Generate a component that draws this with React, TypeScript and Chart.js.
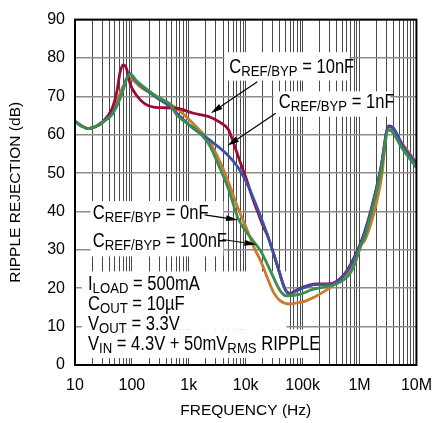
import React, { useEffect, useRef } from "react";
import { Chart, registerables } from "chart.js";

Chart.register(...registerables);

// ---------------- data ----------------
const decadeValues = [10, 100, 1000, 10000, 100000, 1000000, 10000000];
const decadeLabels = ["10", "100", "1k", "10k", "100k", "1M", "10M"];
const dbTickValues = [0, 10, 20, 30, 40, 50, 60, 70, 80, 90];

// C_REF/BYP = 10nF (dark red)
const freq10nF = [10, 13, 17, 22, 30, 45, 55, 62, 71, 81, 93, 120, 167, 240, 617, 1200, 2281, 3373, 4990, 6085, 7900, 10300, 13300, 16200, 21000, 24000, 35500, 49300, 60000, 77000, 130000, 180000, 290000, 550000, 930000, 1200000, 1580000, 2360000, 3250000, 3900000, 5800000, 10000000];
const db10nF = [63.5, 62.3, 61.6, 62.0, 63.2, 66.9, 71.6, 76.3, 78.2, 77.1, 73.3, 70.3, 68.1, 67.2, 66.9, 65.6, 64.7, 63.4, 61.3, 57.9, 53.1, 48.4, 43.3, 39.9, 35.6, 33.9, 26.2, 19.7, 18.6, 19.5, 20.8, 21.1, 21.1, 23.8, 30.0, 34.2, 40.2, 51.2, 62.3, 61.8, 57.0, 52.6];

// C_REF/BYP = 1nF (blue)
const freq1nF = [10, 13, 17, 22, 30, 45, 66, 80, 92, 112, 167, 282, 475, 617, 1186, 2281, 4385, 7390, 11000, 16200, 24000, 35500, 49300, 60000, 77000, 130000, 180000, 290000, 550000, 930000, 1200000, 1580000, 2360000, 3250000, 3900000, 5800000, 10000000];
const db1nF = [63.5, 62.3, 61.6, 62.0, 63.3, 65.5, 70.7, 74.5, 76.0, 74.3, 72.0, 69.5, 67.3, 65.6, 61.7, 58.7, 55.3, 51.4, 46.7, 40.7, 33.9, 26.2, 19.7, 18.4, 19.3, 20.6, 21.0, 21.0, 23.6, 29.6, 33.9, 39.9, 51.0, 62.1, 61.7, 57.0, 52.5];

// C_REF/BYP = 0nF (green)
const freq0nF = [10, 13, 17, 22, 30, 45, 66, 80, 95, 115, 170, 282, 475, 617, 1350, 2281, 3373, 4990, 7390, 12500, 18500, 27400, 40500, 52000, 88000, 150000, 430000, 720000, 1070000, 1250000, 1580000, 2360000, 3250000, 3900000, 5300000, 10000000];
const db0nF = [63.5, 62.3, 61.6, 62.0, 63.3, 65.3, 70.5, 74.5, 75.8, 74.4, 72.2, 69.8, 67.8, 65.1, 61.3, 57.4, 51.9, 45.8, 38.1, 33.0, 29.6, 24.4, 19.3, 18.0, 18.4, 19.7, 21.4, 24.4, 31.3, 33.5, 39.0, 50.1, 61.3, 60.5, 57.0, 51.4];

// C_REF/BYP = 100nF (orange)
const freq100nF = [10, 13, 17, 22, 30, 40, 58, 75, 87, 100, 143, 282, 617, 1352, 2281, 3373, 4990, 7390, 10300, 14200, 18500, 24000, 31200, 40500, 60000, 88000, 115000, 250000, 490000, 810000, 1070000, 1250000, 2000000, 2500000, 3000000, 3400000, 5800000, 10000000];
const db100nF = [63.5, 62.3, 61.6, 62.0, 63.0, 65.1, 69.9, 73.5, 75.0, 74.5, 72.4, 69.9, 66.8, 62.1, 58.3, 53.6, 47.6, 40.7, 35.6, 30.4, 27.0, 22.7, 18.8, 16.7, 15.9, 16.3, 16.7, 19.3, 22.7, 26.1, 31.3, 32.6, 42.4, 50.0, 60.8, 61.3, 57.4, 52.7];

// ---------------- annotation config (data coordinates) ----------------
type Part = { t: string; sub?: boolean };
const labelSpecs: { f: number; db: number; parts: Part[] }[] = [
  { f: 5130, db: 76.1, parts: [{ t: "C" }, { t: "REF/BYP", sub: true }, { t: " = 10nF" }] },
  { f: 38000, db: 66.9, parts: [{ t: "C" }, { t: "REF/BYP", sub: true }, { t: " = 1nF" }] },
  { f: 20.5, db: 38.1, parts: [{ t: "C" }, { t: "REF/BYP", sub: true }, { t: " = 0nF" }] },
  { f: 20.5, db: 30.7, parts: [{ t: "C" }, { t: "REF/BYP", sub: true }, { t: " = 100nF" }] },
  { f: 16.9, db: 19.5, parts: [{ t: "I" }, { t: "LOAD", sub: true }, { t: " = 500mA" }] },
  { f: 16.9, db: 14.3, parts: [{ t: "C" }, { t: "OUT", sub: true }, { t: " = 10µF" }] },
  { f: 16.9, db: 9.1, parts: [{ t: "V" }, { t: "OUT", sub: true }, { t: " = 3.3V" }] },
  { f: 16.9, db: 3.9, parts: [{ t: "V" }, { t: "IN", sub: true }, { t: " = 4.3V + 50mV" }, { t: "RMS", sub: true }, { t: " RIPPLE" }] },
];

const arrowSpecs = [
  { f0: 16000, d0: 73.8, f1: 2432, d1: 65.6 },
  { f0: 33700, d0: 65.6, f1: 4745, d1: 57.1 },
  { f0: 1900, d0: 39.1, f1: 7310, d1: 37.8 },
  { f0: 3900, d0: 32.7, f1: 15400, d1: 31.4 },
];

const whiteBoxes = [
  { f0: 4217, f1: 666900, d0: 81.5, d1: 74.1 },
  { f0: 31200, f1: 3470000, d0: 71.3, d1: 64.7 },
  { f0: 18.7, f1: 4055, d0: 42.7, d1: 28.3 },
  { f0: 13.2, f1: 52000, d0: 24.4, d1: 9.3 },
  { f0: 13.2, f1: 168800, d0: 9.3, d1: 1.8 },
];

const FONT = '"Liberation Sans", Arial, Helvetica, sans-serif';

function buildLogTicks() {
  const out: { value: number }[] = [];
  for (let e = 1; e <= 6; e++) {
    for (let d = 1; d <= 9; d++) out.push({ value: d * Math.pow(10, e) });
  }
  out.push({ value: 10000000 });
  return out;
}

function drawRich(ctx: CanvasRenderingContext2D, x: number, y: number, parts: Part[]) {
  const MAIN = 19.5;
  const SUB = 15.5;
  const DROP = 3;
  const SX = 0.85;
  ctx.save();
  ctx.translate(x, y);
  ctx.scale(SX, 1);
  ctx.fillStyle = "#000";
  ctx.textBaseline = "alphabetic";
  ctx.textAlign = "left";
  let cx = 0;
  for (const p of parts) {
    ctx.font = `${p.sub ? SUB : MAIN}px ${FONT}`;
    ctx.fillText(p.t, cx, p.sub ? DROP : 0);
    cx += ctx.measureText(p.t).width;
  }
  ctx.restore();
}

function drawArrow(ctx: CanvasRenderingContext2D, x0: number, y0: number, x1: number, y1: number) {
  const ang = Math.atan2(y1 - y0, x1 - x0);
  const L = 12;
  const W = 3;
  const bx = x1 - L * Math.cos(ang);
  const by = y1 - L * Math.sin(ang);
  ctx.save();
  ctx.strokeStyle = "#000";
  ctx.fillStyle = "#000";
  ctx.lineWidth = 1.2;
  ctx.beginPath();
  ctx.moveTo(x0, y0);
  ctx.lineTo(bx, by);
  ctx.stroke();
  ctx.beginPath();
  ctx.moveTo(x1, y1);
  ctx.lineTo(bx + W * Math.sin(ang), by - W * Math.cos(ang));
  ctx.lineTo(bx - W * Math.sin(ang), by + W * Math.cos(ang));
  ctx.closePath();
  ctx.fill();
  ctx.restore();
}

const overlayPlugin = {
  id: "overlay",
  beforeDatasetsDraw(chart: any) {
    const { ctx, chartArea } = chart;
    const xs = chart.scales.x;
    const ys = chart.scales.y;
    ctx.save();
    ctx.beginPath();
    ctx.rect(chartArea.left, chartArea.top, chartArea.right - chartArea.left, chartArea.bottom - chartArea.top);
    ctx.clip();
    ctx.fillStyle = "#fff";
    for (const b of whiteBoxes) {
      const x0 = xs.getPixelForValue(b.f0);
      const x1 = xs.getPixelForValue(b.f1);
      const y0 = ys.getPixelForValue(b.d0);
      const y1 = ys.getPixelForValue(b.d1);
      ctx.fillRect(Math.min(x0, x1), Math.min(y0, y1), Math.abs(x1 - x0), Math.abs(y1 - y0));
    }
    ctx.restore();
  },
  afterDatasetsDraw(chart: any) {
    const { ctx, chartArea } = chart;
    const xs = chart.scales.x;
    const ys = chart.scales.y;
    for (const l of labelSpecs) {
      drawRich(ctx, xs.getPixelForValue(l.f), ys.getPixelForValue(l.db), l.parts);
    }
    for (const a of arrowSpecs) {
      drawArrow(ctx, xs.getPixelForValue(a.f0), ys.getPixelForValue(a.d0), xs.getPixelForValue(a.f1), ys.getPixelForValue(a.d1));
    }
    ctx.save();
    ctx.strokeStyle = "#000";
    ctx.lineWidth = 2;
    ctx.strokeRect(chartArea.left, chartArea.top, chartArea.right - chartArea.left, chartArea.bottom - chartArea.top);
    ctx.restore();
  },
};

function series(freqs: number[], dbs: number[]) {
  return freqs.map((f, i) => ({ x: f, y: dbs[i] }));
}

export default function App() {
  const ref = useRef<HTMLCanvasElement | null>(null);
  useEffect(() => {
    if (!ref.current) return;
    const common = { pointRadius: 0, borderWidth: 2.8, fill: false, cubicInterpolationMode: "monotone" as const };
    const chart = new Chart(ref.current, {
      type: "line",
      data: {
        datasets: [
          { label: "0nF", data: series(freq0nF, db0nF), borderColor: "#3B8E4E", ...common },
          { label: "1nF", data: series(freq1nF, db1nF), borderColor: "#3C52A8", ...common },
          { label: "10nF", data: series(freq10nF, db10nF), borderColor: "#9E0A33", ...common },
          { label: "100nF", data: series(freq100nF, db100nF), borderColor: "#C97B30", ...common },
        ],
      },
      options: {
        responsive: false,
        animation: false,
        events: [],
        layout: { padding: { top: 15, right: 16, left: 0, bottom: 0 } },
        plugins: { legend: { display: false }, tooltip: { enabled: false } },
        scales: {
          x: {
            type: "logarithmic",
            min: 10,
            max: 10000000,
            afterBuildTicks: (s: any) => {
              s.ticks = buildLogTicks();
            },
            afterFit: (s: any) => {
              s.height = 58;
            },
            ticks: {
              autoSkip: false,
              maxRotation: 0,
              minRotation: 0,
              padding: 11,
              color: "#000",
              font: { family: FONT, size: 16 },
              callback: (v: any) => {
                const i = decadeValues.indexOf(Number(v));
                return i >= 0 ? decadeLabels[i] : "";
              },
            },
            grid: { color: "#4a4a4a", lineWidth: 1, drawTicks: false },
            border: { display: false },
            title: {
              display: true,
              text: "FREQUENCY (Hz)",
              color: "#000",
              font: { family: FONT, size: 15.5 },
              padding: { top: 0, bottom: 3 },
            },
          },
          y: {
            type: "linear",
            min: 0,
            max: 90,
            afterBuildTicks: (s: any) => {
              s.ticks = dbTickValues.map((v) => ({ value: v }));
            },
            afterFit: (s: any) => {
              s.width = 75;
            },
            ticks: {
              padding: 10,
              color: "#000",
              font: { family: FONT, size: 16 },
            },
            grid: { color: "#8c8c8c", lineWidth: 1.5, drawTicks: false },
            border: { display: false },
            title: {
              display: true,
              text: "RIPPLE REJECTION (dB)",
              color: "#000",
              font: { family: FONT, size: 15.5 },
              padding: { top: 6, bottom: 0 },
            },
          },
        },
      },
      plugins: [overlayPlugin],
    });
    return () => chart.destroy();
  }, []);
  return (
    <div style={{ position: "absolute", left: 0, top: 0, width: 443, height: 423, background: "#fff" }}>
      <canvas ref={ref} width={443} height={423} style={{ display: "block" }} />
    </div>
  );
}
